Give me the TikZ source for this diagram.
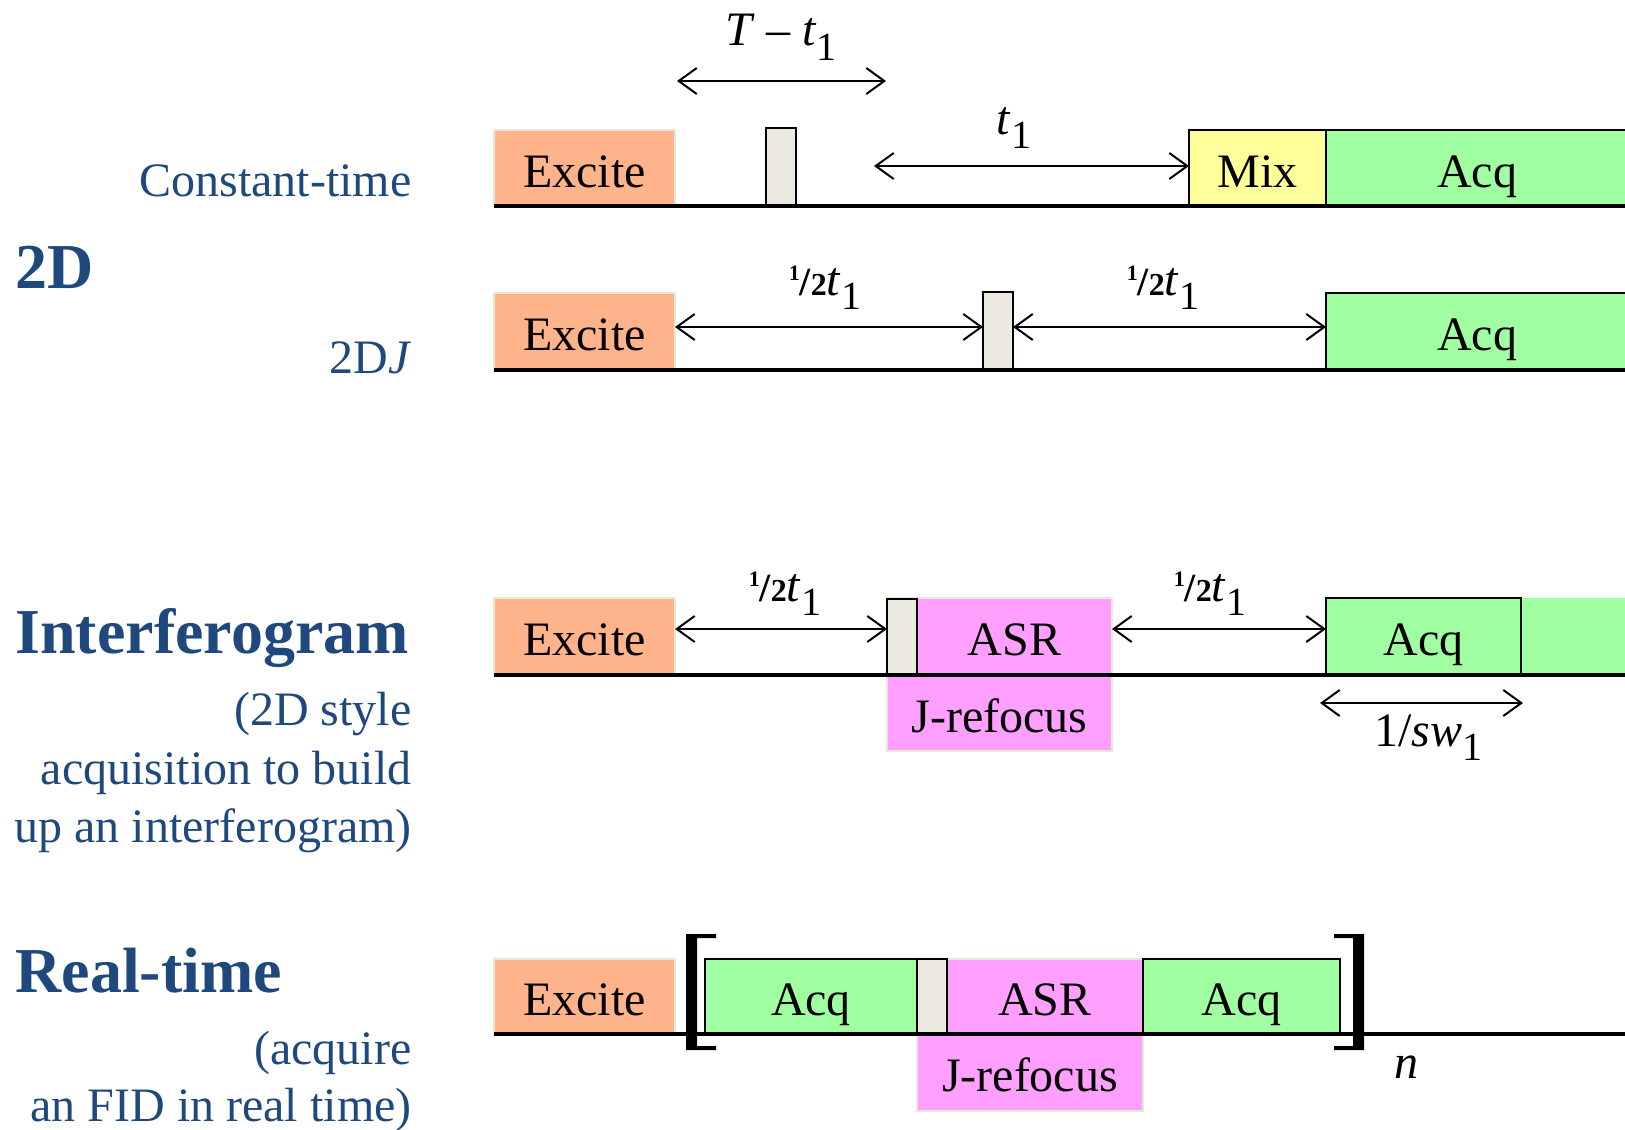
\documentclass[tikz,border=0pt]{standalone}
\usepackage{fontspec}
\setmainfont{Liberation Serif}
\usetikzlibrary{arrows.meta,fit,calc}
\definecolor{excite}{RGB}{255,179,138}
\definecolor{acqg}{RGB}{160,255,160}
\definecolor{mixy}{RGB}{255,255,153}
\definecolor{pinkb}{RGB}{255,159,255}
\definecolor{pulsec}{RGB}{236,234,224}
\definecolor{titleblue}{RGB}{31,73,125}
\definecolor{faint}{RGB}{236,230,218}
\newcommand\sbone{\raisebox{-0.3em}{\fontsize{20}{20}\selectfont 1}}
\newcommand\halfx{{\bfseries\raisebox{0.3em}{\fontsize{11}{11}\selectfont 1}{\fontsize{20}{20}\selectfont /}{\fontsize{16}{16}\selectfont 2}}}
\begin{document}
\begin{tikzpicture}[x=0.5pt,y=-0.5pt,
  box/.style={inner sep=0pt, outer sep=0pt},
  btxt/.style={inner sep=0pt, anchor=base, yshift=-9.5pt, font=\fontsize{24}{28}\selectfont},
  excbox/.style={box, fill=excite, draw=faint, line width=0.6pt},
  acqbox/.style={box, fill=acqg, draw=black, line width=1pt},
  acqfree/.style={box, fill=acqg},
  mixbox/.style={box, fill=mixy, draw=black, line width=1pt},
  pinkbox/.style={box, fill=pinkb, draw=faint, line width=0.6pt},
  pulsebox/.style={box, fill=pulsec, draw=black, line width=1pt},
  seqline/.style={line width=2pt, black},
  dim/.style={{Straight Barb[length=9pt,width=13pt]}-{Straight Barb[length=9pt,width=13pt]}, line width=1pt},
  lbl/.style={inner sep=0pt, font=\fontsize{24}{28}\selectfont},
  side/.style={inner sep=0pt, text=titleblue, font=\fontsize{24}{28}\selectfont},
  title/.style={inner sep=0pt, text=titleblue, font=\fontsize{32}{36}\selectfont\bfseries},
  bracket/.style={fill=black}
]
\useasboundingbox (0,0) rectangle (1625,1129);

% ---------- left labels ----------
\node[side, anchor=base east] (ct) at (412,196) {Constant-time};
\node[title, anchor=base west] (t2d) at (15,288) {2D};
\node[side, anchor=base east] (dj) at (412,373) {2D\textit{J}};
\node[title, anchor=base west] (tif) at (15,653) {Interferogram};
\node[side, anchor=base east] (s31) at (412,725) {(2D style};
\node[side, anchor=base east] (s32) at (412,784) {acquisition to build};
\node[side, anchor=base east] (s33) at (412,842) {up an interferogram)};
\node[title, anchor=base west] (trt) at (15,992) {Real-time};
\node[side, anchor=base east] (s41) at (412,1064) {(acquire};
\node[side, anchor=base east] (s42) at (412,1121) {an FID in real time)};

% ---------- row 1: constant-time ----------
\node[excbox, fit={(494,130) (675,206)}] (exc1) {};
\node[btxt] (exc1t) at (exc1.center) {Excite};
\node[pulsebox, fit={(766,128) (796,206)}] (p1) {};
\node[mixbox, fit={(1189,130) (1326,206)}] (mix1) {};
\node[btxt] (mix1t) at (mix1.center) {Mix};
\node[acqbox, fit={(1326,130) (1628,206)}] (acq1) {};
\node[btxt] (acq1t) at (acq1.center) {Acq};
\coordinate (e1) at (1630,206);
\draw[seqline] (exc1.south west) -- (e1);
\coordinate (ta) at (677,81);
\coordinate (tb) at (886,81);
\draw[dim] (ta) -- (tb);
\node[lbl, anchor=base] (lT) at (781,46) {\textit{T} – \textit{t}\sbone};
\coordinate (t1a) at (874,166);
\draw[dim] (t1a) -- (mix1.west |- t1a);
\node[lbl, anchor=base] (lt1) at (1014,134) {\textit{t}\sbone};

% ---------- row 2: 2DJ ----------
\node[excbox, fit={(494,293) (675,370)}] (exc2) {};
\node[btxt] (exc2t) at (exc2.center) {Excite};
\node[pulsebox, fit={(983,292) (1013,370)}] (p2) {};
\node[acqbox, fit={(1326,293) (1628,370)}] (acq2) {};
\node[btxt] (acq2t) at (acq2.center) {Acq};
\coordinate (e2) at (1630,370);
\draw[seqline] (exc2.south west) -- (e2);
\coordinate (y2) at (0,327);
\draw[dim] (exc2.east |- y2) -- (p2.west |- y2);
\draw[dim] (p2.east |- y2) -- (acq2.west |- y2);
\node[lbl, anchor=base] (lh21) at (825,295) {\halfx\textit{t}\sbone};
\node[lbl, anchor=base] (lh22) at (1163,295) {\halfx\textit{t}\sbone};

% ---------- row 3: interferogram ----------
\node[excbox, fit={(494,598) (675,675)}] (exc3) {};
\node[btxt] (exc3t) at (exc3.center) {Excite};
\node[pinkbox, fit={(887,598) (1112,675)}] (pk3) {};
\node[box, fit={(917,598) (1112,675)}] (asr3) {};
\node[btxt] (asr3t) at (asr3.center) {ASR};
\node[pinkbox, fit={(887,675) (1112,751)}] (jr3) {};
\node[btxt] (jr3t) at (jr3.center) {J-refocus};
\node[pulsebox, fit={(887,599) (917,675)}] (p3) {};
\node[acqfree, fit={(1521,598) (1628,675)}] (acq3b) {};
\node[acqbox, fit={(1326,598) (1521,675)}] (acq3) {};
\node[btxt] (acq3t) at (acq3.center) {Acq};
\coordinate (e3) at (1630,675);
\draw[seqline] (exc3.south west) -- (e3);
\coordinate (y3) at (0,629);
\draw[dim] (exc3.east |- y3) -- (p3.west |- y3);
\draw[dim] (asr3.east |- y3) -- (acq3.west |- y3);
\node[lbl, anchor=base] (lh31) at (785,601) {\halfx\textit{t}\sbone};
\node[lbl, anchor=base] (lh32) at (1210,601) {\halfx\textit{t}\sbone};
\coordinate (swa) at (1320,703);
\coordinate (swb) at (1523,703);
\draw[dim] (swa) -- (swb);
\node[lbl, anchor=base] (lsw) at (1428,746) {1/\textit{sw}\sbone};

% ---------- row 4: real-time ----------
\node[excbox, fit={(494,959) (675,1034)}] (exc4) {};
\node[btxt] (exc4t) at (exc4.center) {Excite};
\node[acqbox, fit={(705,959) (917,1034)}] (acq41) {};
\node[btxt] (acq41t) at (acq41.center) {Acq};
\node[pinkbox, fit={(947,959) (1143,1034)}] (asr4) {};
\node[btxt] (asr4t) at (asr4.center) {ASR};
\node[pinkbox, fit={(917,1034) (1143,1111)}] (jr4) {};
\node[btxt] (jr4t) at (jr4.center) {J-refocus};
\node[pulsebox, fit={(917,959) (947,1034)}] (p4) {};
\node[acqbox, fit={(1143,959) (1340,1034)}] (acq42) {};
\node[btxt] (acq42t) at (acq42.center) {Acq};
\coordinate (e4) at (1630,1034);
\draw[seqline] (exc4.south west) -- (e4);
\fill[bracket] (686,934) -- (716,934) -- (716,938) -- (697,938) -- (697,1046) -- (716,1046) -- (716,1050) -- (686,1050) -- cycle;
\fill[bracket] (1364,934) -- (1334,934) -- (1334,938) -- (1353,938) -- (1353,1046) -- (1334,1046) -- (1334,1050) -- (1364,1050) -- cycle;
\node[lbl, anchor=base] (ln) at (1406,1078) {\textit{n}};
\end{tikzpicture}
\end{document}
